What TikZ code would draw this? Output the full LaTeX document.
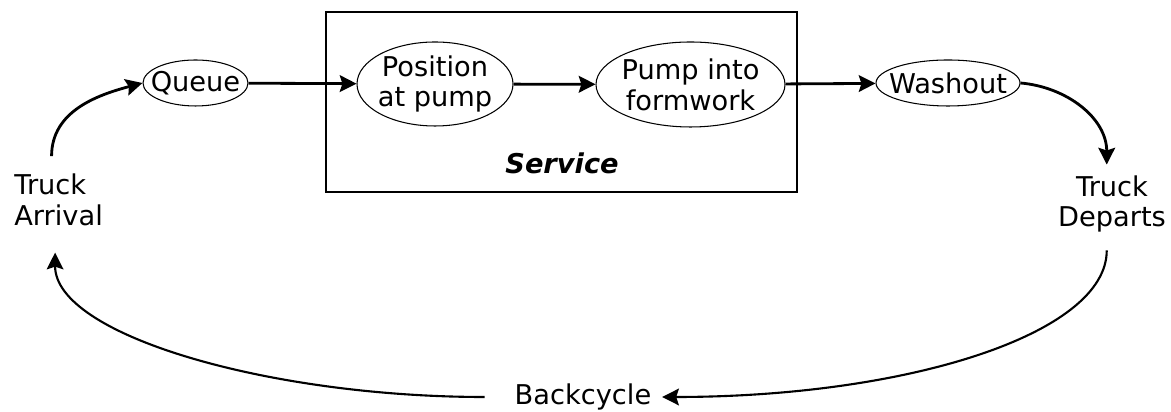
\documentclass[tikz,border=0pt]{standalone}
\usepackage{fontspec}
\setmainfont{DejaVu Sans}
\usepackage{tikz}
\usetikzlibrary{shapes.geometric,arrows.meta,positioning}

\tikzset{
    proc/.style={ellipse, draw, line width=0.6pt, inner sep=-1.5cm, align=center,
        font=\fontsize{15.5}{17.5}\selectfont},
    lbl/.style={font=\fontsize{15.5}{17.5}\selectfont, align=center},
    flow/.style={line width=1.6pt, -{Stealth[length=9.5pt,width=9.5pt,inset=1.5pt]}},
}

\begin{document}
\begin{tikzpicture}
    \useasboundingbox (0,0) rectangle (23.42,8.24);
    % Service box
    \draw[line width=0.6pt] (6.52,4.40) rectangle (15.94,8.00);
    \node[font=\fontsize{15.5}{17.5}\selectfont\bfseries\itshape] (svc) at (11.24,4.98) {Service};
    % Steps
    \node[proc, minimum width=2.1cm, minimum height=0.92cm] (queue) at (3.91,6.58) {Queue};
    \node[proc, minimum width=3.12cm, minimum height=1.68cm] (posn) at (8.70,6.56) {Position\\at pump};
    \node[proc, minimum width=3.78cm, minimum height=1.70cm] (pump) at (13.81,6.55) {Pump into\\formwork};
    \node[proc, minimum width=2.88cm, minimum height=0.92cm] (wash) at (18.96,6.58) {Washout};
    % Truck in / out
    \node[lbl, align=left, anchor=west, inner xsep=0pt, inner ysep=10pt] (arr) at (0.28,4.24) {Truck\\Arrival};
    \node[lbl, inner xsep=0pt, inner ysep=10pt] (dep) at (22.24,4.16) {Truck\\Departs};
    \node[lbl, inner xsep=6pt] (back) at (11.66,0.30) {Backcycle};
    % Flow
    \draw[flow] ([xshift=-4pt]arr.north) to[out=90,in=195] (queue.west);
    \draw[flow] (queue) -- (posn);
    \draw[flow] (posn) -- (pump);
    \draw[flow] (pump) -- (wash);
    \draw[flow] (wash.east) to[out=-5,in=90] ([xshift=-3pt,yshift=-4pt]dep.north);
    % Return trip
    \draw[flow, line width=1.2pt] ([xshift=-3pt]dep.south)
        to[out=-90,in=0,out distance=1.67cm,in distance=4.9cm] (back.east);
    \draw[flow, line width=1.2pt, shorten <=11pt] (back.west)
        to[out=180,in=-90,out distance=4.7cm,in distance=1.65cm] ([xshift=-2pt,yshift=-5pt]arr.south);
\end{tikzpicture}
\end{document}
